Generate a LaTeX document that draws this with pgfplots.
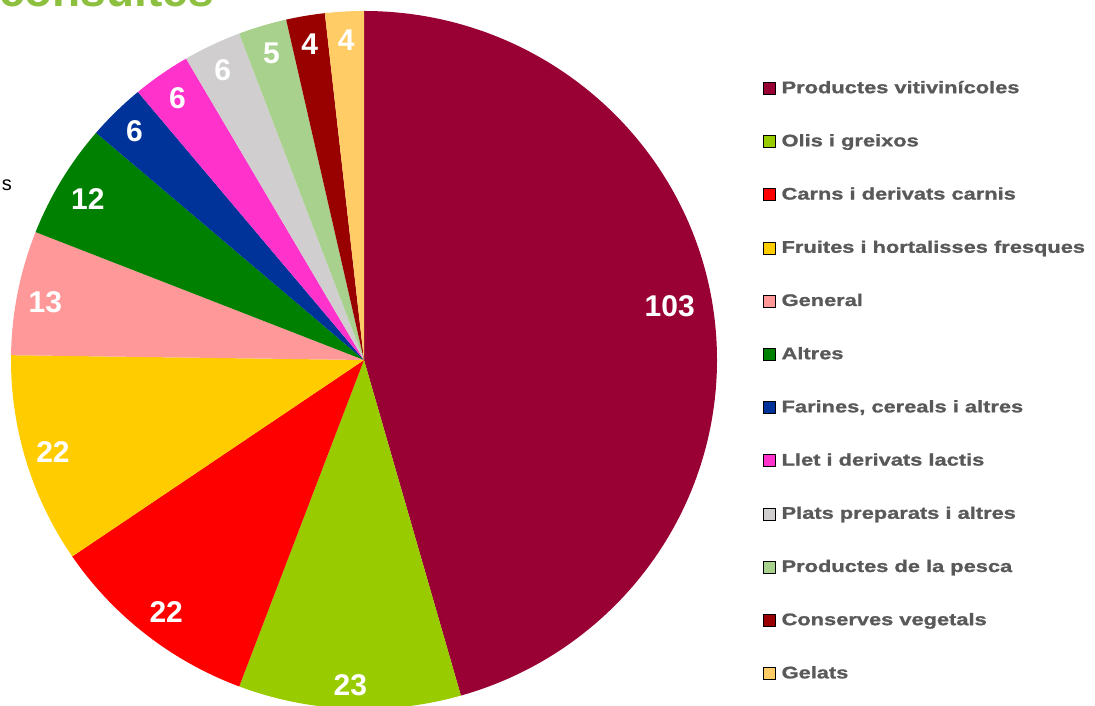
\documentclass[border=0pt]{standalone}
\usepackage{pgfplots}
\pgfplotsset{compat=1.18}
\usepackage{pgfplotstable}
\usepackage{fontspec}
\setmainfont{Liberation Sans}
\newfontfamily\legfont[FakeStretch=1.3, FakeBold=1.2]{Liberation Sans}

\definecolor{c0}{HTML}{990033}
\definecolor{c1}{HTML}{99CC00}
\definecolor{c2}{HTML}{FF0000}
\definecolor{c3}{HTML}{FFCC00}
\definecolor{c4}{HTML}{FF9999}
\definecolor{c5}{HTML}{008000}
\definecolor{c6}{HTML}{003399}
\definecolor{c7}{HTML}{FF33CC}
\definecolor{c8}{HTML}{D0CECE}
\definecolor{c9}{HTML}{A9D18E}
\definecolor{c10}{HTML}{990000}
\definecolor{c11}{HTML}{FFCC66}
\definecolor{legtext}{HTML}{595959}
\definecolor{titlegreen}{HTML}{8DC03F}

% name; value; label radius (fraction); label angle shift; label nudge x, y (pt)
\pgfplotstableread[col sep=semicolon]{
name;value;lr;da;nx;ny
Productes vitivinícoles;103;0.88;-2.2;0;0
Olis i greixos;23;0.93;0;0;-1
Carns i derivats carnis;22;0.91;0;1;-3
Fruites i hortalisses fresques;22;0.92;0;0;0
General;13;0.92;0;0;-4
Altres;12;0.91;0;-1;-3
Farines, cereals i altres;6;0.91;0;-4;3
Llet i derivats lactis;6;0.91;0;-2;2
Plats preparats i altres;6;0.91;0;-3;3
Productes de la pesca;5;0.91;0;0;3
Conserves vegetals;4;0.91;0;-1;3
Gelats;4;0.91;0;0;3
}\piedata

\pgfplotstablegetrowsof{\piedata}
\pgfmathtruncatemacro\nlast{\pgfplotsretval-1}
\def\cum{0}
\pgfplotsforeachungrouped \i in {0,...,\nlast}{%
  \pgfplotstablegetelem{\i}{value}\of\piedata
  \pgfmathsetmacro\cum{\cum+\pgfplotsretval}}
\let\total\cum
\def\cum{0}
\pgfplotsforeachungrouped \i in {0,...,\nlast}{%
  \pgfplotstablegetelem{\i}{value}\of\piedata
  \let\myval\pgfplotsretval
  \expandafter\xdef\csname lab\i\endcsname{\myval}%
  \pgfmathsetmacro\myS{\cum/\total*360}%
  \pgfmathsetmacro\cum{\cum+\myval}%
  \pgfmathsetmacro\myE{\cum/\total*360}%
  \expandafter\xdef\csname ws\i\endcsname{\myS}%
  \expandafter\xdef\csname we\i\endcsname{\myE}%
  \pgfplotstablegetelem{\i}{da}\of\piedata
  \pgfmathsetmacro\myM{(\myS+\myE)/2+\pgfplotsretval}%
  \pgfplotstablegetelem{\i}{lr}\of\piedata
  \let\myR\pgfplotsretval
  \pgfplotstablegetelem{\i}{nx}\of\piedata
  \pgfmathsetmacro\mylx{364+\myR*353*sin(\myM)+\pgfplotsretval}%
  \pgfplotstablegetelem{\i}{ny}\of\piedata
  \pgfmathsetmacro\myly{346+\myR*349*cos(\myM)+\pgfplotsretval}%
  \expandafter\xdef\csname lx\i\endcsname{\mylx}%
  \expandafter\xdef\csname ly\i\endcsname{\myly}%
  \pgfplotstablegetelem{\i}{name}\of\piedata
  \expandafter\xdef\csname nm\i\endcsname{\pgfplotsretval}%
}

\begin{document}
\begin{tikzpicture}
\begin{axis}[
  width=1095pt, height=706pt, scale only axis,
  xmin=0, xmax=1095, ymin=0, ymax=706,
  hide axis, clip=true,
  at={(0,0)}, anchor=south west,
  legend image code/.code={\fill[#1] (0pt,-5pt) rectangle (12pt,7pt);},
  legend cell align=left,
  legend style={
    at={(axis cs:763,625)}, anchor=north west,
    draw=none, fill=none, inner sep=0pt,
    font=\legfont\bfseries\fontsize{16.8}{20}\selectfont, text=legtext,
    nodes={inner sep=0pt, text height=12pt, text depth=4pt},
    row sep=37.2pt,
    /tikz/every odd column/.style={column sep=6pt},
  },
]
\pgfplotsinvokeforeach{0,...,11}{
  \fill[c#1] (axis cs:364,346) -- ++({90-\csname ws#1\endcsname}:353pt and 349pt)
    arc[start angle={90-\csname ws#1\endcsname}, end angle={90-\csname we#1\endcsname}, x radius=353pt, y radius=349pt] -- cycle;
}
\pgfplotsinvokeforeach{0,...,11}{
  \node[text=white, font=\bfseries\fontsize{30}{34}\selectfont, inner sep=0pt]
    at (axis cs:{\csname lx#1\endcsname},{\csname ly#1\endcsname}) {\csname lab#1\endcsname};
}
\pgfplotsinvokeforeach{0,...,11}{
  \addlegendimage{fill=c#1}
  \addlegendentryexpanded{\csname nm#1\endcsname}
}
\node[anchor=base west, text=titlegreen, font=\bfseries\fontsize{46}{50}\selectfont, inner sep=0pt]
  at (axis cs:-1,699) {consultes};
\node[anchor=base east, font=\fontsize{20}{24}\selectfont, inner sep=0pt]
  at (axis cs:12,515) {s};
\end{axis}
\pgfresetboundingbox
\useasboundingbox (0,0) rectangle (1095pt,706pt);
\end{tikzpicture}
\end{document}
